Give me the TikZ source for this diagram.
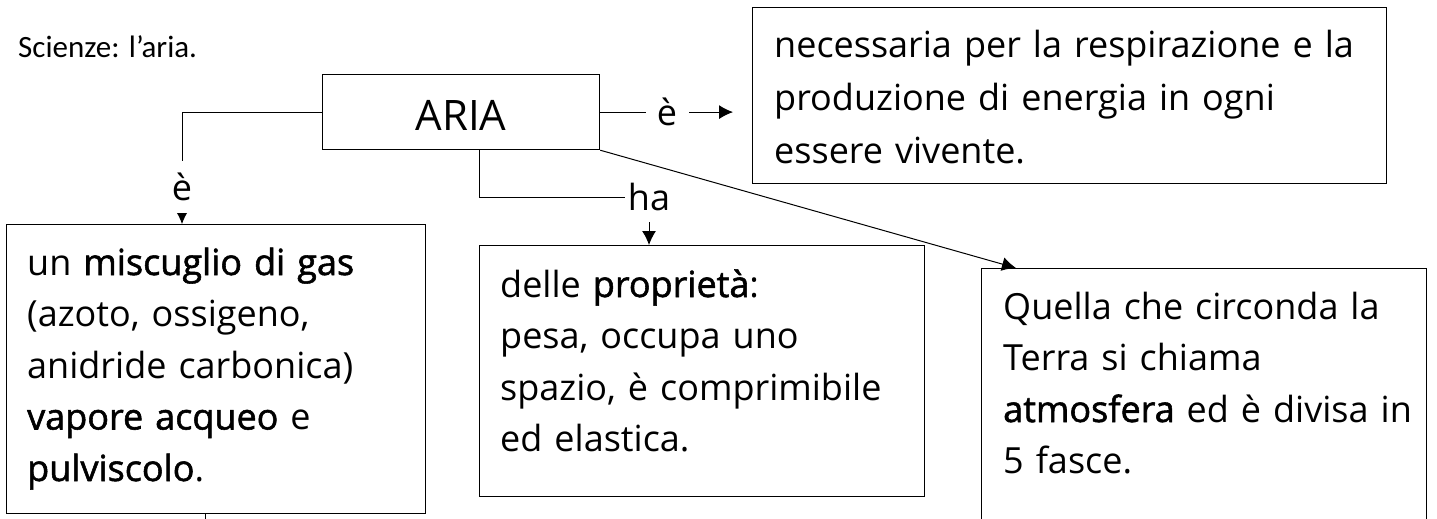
\documentclass[tikz,border=0pt]{standalone}
\usepackage{fontspec}
\setmainfont{Open Sans}
\newfontfamily\semib{Open Sans}[FakeBold=1.5]
\newfontfamily\calib{Carlito}
\usetikzlibrary{arrows.meta,calc}
\begin{document}
\begin{tikzpicture}[x=1pt,y=-1pt,
  box/.style={draw,line width=1.2pt,anchor=north west,inner sep=0pt},
  txt/.style={anchor=base west,inner sep=0pt,text width=640pt,align=left,font=\fontsize{36}{51.5}\selectfont},
  lbl/.style={fill=white,inner sep=0pt,font=\fontsize{36}{40}\selectfont},
  conn/.style={line width=1pt},
  arr/.style={conn,-{Latex[length=14pt,width=14pt]}}]
\fill[white] (0,0) rectangle (1437,519);
\useasboundingbox (0,0) rectangle (1437,519);

\node[anchor=base west,inner sep=0pt,font=\calib\fontsize{31}{36}\selectfont] (title) at (18,57) {Scienze: l’aria.};

% boxes
\node[box,minimum width=277pt,minimum height=75pt,font=\fontsize{42}{48}\selectfont,text height=37pt] (aria) at (322,74) {ARIA};
\node[box,minimum width=634pt,minimum height=176pt] (bTop) at (752,7) {};
\node[box,minimum width=419pt,minimum height=289pt] (bMix) at (6,224) {};
\node[box,minimum width=445pt,minimum height=251pt] (bProp) at (479,245) {};
\node[box,minimum width=445pt,minimum height=320pt] (bAtm) at (981,268) {};

% texts
\node[txt,font=\fontsize{36}{52.5}\selectfont] (tTop) at ($(bTop.north west)+(22,51)$)
  {necessaria per la respirazione e la\\produzione di energia in ogni\\essere vivente.};
\node[txt] (tMix) at ($(bMix.north west)+(21,51)$)
  {un {\semib miscuglio di gas}\\(azoto, ossigeno,\\anidride carbonica)\\{\semib vapore acqueo} e\\{\semib pulviscolo}.};
\node[txt] (tProp) at ($(bProp.north west)+(21,52)$)
  {delle {\semib proprietà}:\\pesa, occupa uno\\spazio, è comprimibile\\ed elastica.};
\node[txt] (tAtm) at ($(bAtm.north west)+(22,51)$)
  {Quella che circonda la\\Terra si chiama\\{\semib atmosfera} ed è divisa in\\5 fasce.};

% connectors
\coordinate (mixIn) at (182,224);
\draw[arr] (aria.west) -| (mixIn);
\node[lbl,minimum height=52pt] (lE1) at (182,187) {è};

\draw[arr,shorten >=19pt] (aria.east) -- node[lbl,pos=0.44,minimum width=43pt] (lE2) {è} (aria.east -| bTop.west);

\coordinate (haStart) at (479,149);
\coordinate (haCorner) at (649,197);
\coordinate (propIn) at (649,245);
\draw[arr] (haStart) |- (haCorner) -- (propIn);
\node[lbl,minimum width=48pt,minimum height=50pt] (lHa) at (haCorner) {ha};

\coordinate (atmIn) at (1016,268);
\draw[arr] (aria.south east) -- (atmIn);

\coordinate (mixOut) at (205,513);
\draw[conn] (mixOut) -- ++(0,20);
\end{tikzpicture}
\end{document}
